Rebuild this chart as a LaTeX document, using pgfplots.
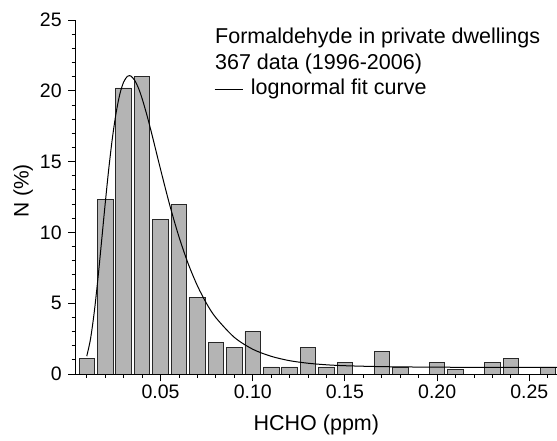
\documentclass[border=0pt]{standalone}
\usepackage{fontspec}
\setmainfont{Liberation Sans}
\usepackage{pgfplots}
\pgfplotsset{compat=1.18}
\definecolor{barfill}{RGB}{180,180,180}
\definecolor{baredge}{RGB}{40,40,40}
\begin{document}
\begin{tikzpicture}
\useasboundingbox (-75.7pt,-67pt) rectangle (481.3pt,374pt);
\begin{axis}[
  at={(0pt,0pt)}, anchor=south west,
  scale only axis, width=481.3pt, height=354pt,
  xmin=0.004, xmax=0.265, ymin=0, ymax=25,
  axis lines=left, axis line style={-, line width=0.9pt},
  tick align=outside,
  major tick length=7.5pt, minor tick length=4pt,
  every tick/.style={black, line width=0.9pt},
  xtick={0.05,0.10,0.15,0.20,0.25},
  minor xtick={0.01,0.02,0.03,0.04,0.06,0.07,0.08,0.09,0.11,0.12,0.13,0.14,0.16,0.17,0.18,0.19,0.21,0.22,0.23,0.24,0.26},
  ytick={0,5,10,15,20,25},
  minor ytick={1,2,3,4,6,7,8,9,11,12,13,14,16,17,18,19,21,22,23,24},
  scaled x ticks=false,
  /pgf/number format/assume math mode=true,
  xticklabel style={/pgf/number format/.cd, fixed, fixed zerofill, precision=2},
  yticklabel style={xshift=-3pt},
  ticklabel style={font=\fontsize{19.5}{22}\selectfont},
  xlabel={HCHO (ppm)},
  xlabel style={font=\fontsize{21.5}{24}\selectfont, at={(axis description cs:0.5,0)}, anchor=base, yshift=-56.5pt},
  ylabel={N (\%)},
  ylabel style={font=\fontsize{21}{24}\selectfont, at={(axis description cs:-0.1089,0.517)}, anchor=center},
  legend style={draw=none, fill=none, at={(axis description cs:0.2873,0.9766)}, anchor=north west,
    inner sep=0pt, row sep=5.6pt, column sep=7.7pt, font=\fontsize{21.5}{24}\selectfont,
    nodes={inner sep=0pt, text height=15pt, text depth=5pt}},
  legend cell align=left,
  legend image code/.code={\draw[black, line width=1pt] (0pt,0pt) -- (28pt,0pt);},
]
\addplot[ybar, bar width=0.0084, bar shift=0pt, fill=barfill, draw=baredge, line width=0.8pt, forget plot]
  coordinates {(0.01,1.1) (0.02,12.3) (0.03,20.2) (0.04,21.0) (0.05,10.9) (0.06,12.0) (0.07,5.4)
  (0.08,2.2) (0.09,1.9) (0.10,3.0) (0.11,0.5) (0.12,0.5) (0.13,1.9) (0.14,0.5) (0.15,0.8)
  (0.17,1.6) (0.18,0.5) (0.20,0.8) (0.21,0.3) (0.23,0.8) (0.24,1.1) (0.26,0.5)};
\addlegendimage{empty legend}
\addlegendentry{\hspace*{-35.7pt}Formaldehyde in private dwellings}
\addlegendimage{empty legend}
\addlegendentry{\hspace*{-35.7pt}367 data (1996-2006)}
\addplot[black, line width=1pt, smooth] coordinates {
  (0.010,1.26) (0.012,2.45) (0.014,4.30) (0.016,6.67) (0.018,9.33) (0.020,12.04)
  (0.022,14.57) (0.024,16.76) (0.026,18.51) (0.028,19.80) (0.030,20.62) (0.032,21.02)
  (0.0331,21.07) (0.034,21.04) (0.036,20.74) (0.038,20.20) (0.040,19.46) (0.043,18.10)
  (0.046,16.57) (0.050,14.46) (0.055,11.93) (0.060,9.69) (0.065,7.79) (0.070,6.23)
  (0.075,4.97) (0.080,3.98) (0.090,2.59) (0.100,1.75) (0.110,1.25) (0.120,0.94)
  (0.130,0.76) (0.140,0.65) (0.150,0.585) (0.170,0.52) (0.200,0.48) (0.230,0.474) (0.265,0.47)};
\addlegendentry{lognormal fit curve}
\end{axis}
\end{tikzpicture}
\end{document}
